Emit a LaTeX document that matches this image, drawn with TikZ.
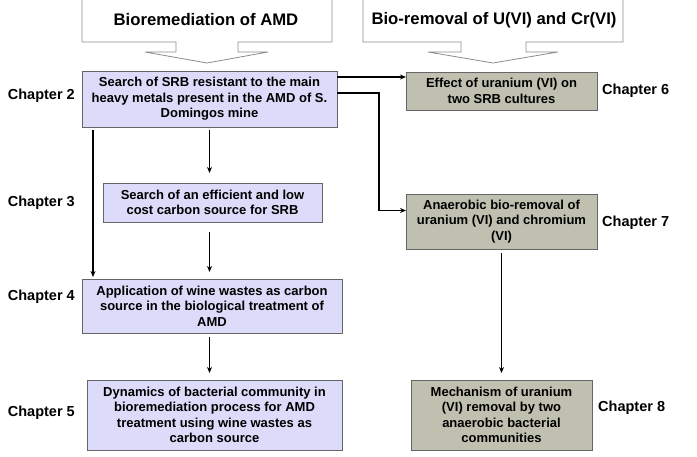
\documentclass[tikz,border=0pt]{standalone}
\usepackage{fontspec}
\setmainfont{Liberation Sans}
\usetikzlibrary{positioning, arrows.meta}
\definecolor{lav}{RGB}{220,220,250}
\definecolor{olivegray}{RGB}{192,192,177}

\begin{document}
\begin{tikzpicture}[
    x=1pt, y=-1pt,
    node distance=20pt,
    % Cajas de capitulo: lavanda a la izquierda, gris a la derecha
    bluebox/.style={
        rectangle,
        draw=black!60,
        fill=lav,
        line width=0.8pt,
        inner sep=0pt,
        outer sep=0pt,
        align=center,
        font=\fontsize{13}{15.5}\selectfont\bfseries
    },
    graybox/.style={bluebox, fill=olivegray},
    chap/.style={inner sep=0pt, font=\fontsize{14.5}{17}\selectfont\bfseries},
    hdr/.style={inner sep=0pt, font=\fontsize{16.7}{20}\selectfont\bfseries},
    callout/.style={draw=black!45, fill=white, line width=0.8pt},
    arr/.style={->, >={Stealth[length=6pt, width=5pt]}, line width=1.4pt, draw=black}
]
    \useasboundingbox (0,0) rectangle (697,457);

    % --- CABECERAS ---
    \draw[callout] (82,-5) -- (82,42) -- (176,42) -- (176,52) -- (145,52) -- (207,63)
        -- (268,52) -- (238,52) -- (238,42) -- (332,42) -- (332,-5) -- cycle;
    \draw[callout] (363,-5) -- (363,42) -- (461,42) -- (461,52) -- (428,52) -- (493,63)
        -- (558,52) -- (526,52) -- (526,42) -- (623,42) -- (623,-5) -- cycle;
    \node[hdr] (amdhdr) at (206,20) {Bioremediation of AMD};
    \node[hdr] (uhdr) at (494,20) {Bio-removal of U(VI) and Cr(VI)};

    % --- COLUMNA IZQUIERDA ---
    \node[bluebox, minimum width=255pt, minimum height=56pt] (srb) at (209.5,99)
        {Search of SRB resistant to the main\\heavy metals present in the AMD of S.\\Domingos mine};
    \node[bluebox, minimum width=219pt, minimum height=39pt, below=56pt of srb, xshift=3pt] (carbon)
        {Search of an efficient and low\\cost carbon source for SRB};
    \node[bluebox, minimum width=260pt, minimum height=54pt, below=57pt of carbon, xshift=-0.5pt] (wine)
        {Application of wine wastes as carbon\\source in the biological treatment of\\AMD};
    \node[bluebox, minimum width=255pt, minimum height=70pt, below=47pt of wine, xshift=2.5pt] (dyn)
        {Dynamics of bacterial community in\\bioremediation process for AMD\\treatment using wine wastes as\\carbon source};

    % --- COLUMNA DERECHA ---
    \node[graybox, minimum width=191pt, minimum height=38pt] (effect) at (501.5,91)
        {Effect of uranium (VI) on\\two SRB cultures};
    \node[graybox, minimum width=191pt, minimum height=55pt, below=84pt of effect] (anaer)
        {Anaerobic bio-removal of\\uranium (VI) and chromium\\(VI)};
    \node[graybox, minimum width=181pt, minimum height=70pt, below=131pt of anaer] (mech)
        {Mechanism of uranium\\(VI) removal by two\\anaerobic bacterial\\communities};

    % --- ETIQUETAS DE CAPITULO ---
    \node[chap, left=7pt of srb, yshift=3pt] (c2) {Chapter 2};
    \node[chap, anchor=east] (c3) at (c2.east |- carbon) {Chapter 3};
    \node[chap, left=7pt of wine, yshift=9pt] (c4) {Chapter 4};
    \node[chap, left=12pt of dyn, yshift=2pt] (c5) {Chapter 5};
    \node[chap, right=5pt of effect] (c6) {Chapter 6};
    \node[chap, right=5pt of anaer, yshift=-1.5pt] (c7) {Chapter 7};
    \node[chap, right=6pt of mech, yshift=7pt] (c8) {Chapter 8};

    % --- CONEXIONES ---
    \draw[arr, shorten <=3pt, shorten >=10pt] (srb.south) -- (srb.south |- carbon.north);
    \draw[arr, shorten <=10pt, shorten >=7pt] (srb.south |- carbon.south) -- (srb.south |- wine.north);
    \draw[arr, shorten <=3pt, shorten >=2pt] ([xshift=11pt]srb.south west) -- ([xshift=11pt]srb.south west |- wine.north);
    \draw[arr, shorten <=4pt, shorten >=7pt] (srb.south |- wine.south) -- (srb.south |- dyn.north);
    \draw[arr, shorten <=4pt, shorten >=7pt] (anaer.south) -- (anaer.south |- mech.north);

    \draw[arr] ([yshift=22pt]srb.east) -- ([yshift=22pt]srb.east -| effect.west);
    \draw[arr] ([yshift=6pt]srb.east) -- ++(42,0) |- ([yshift=11pt]anaer.west);

\end{tikzpicture}
\end{document}
